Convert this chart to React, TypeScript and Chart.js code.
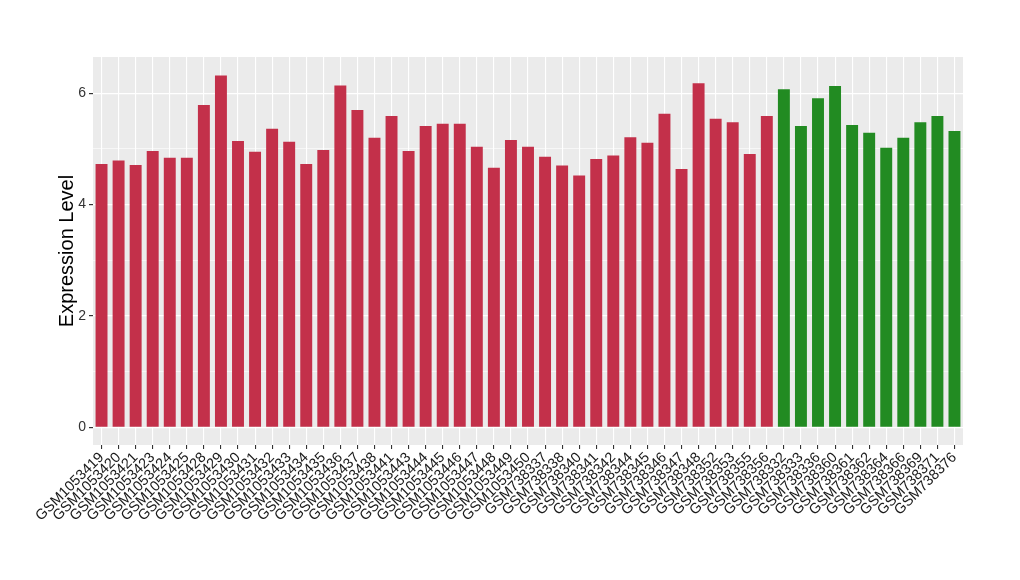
import React, { useEffect, useRef } from "react";
import { Chart, registerables } from "chart.js";

Chart.register(...registerables);

const samples = [
  "GSM1053419","GSM1053420","GSM1053421","GSM1053423","GSM1053424","GSM1053425","GSM1053428","GSM1053429","GSM1053430","GSM1053431",
  "GSM1053432","GSM1053433","GSM1053434","GSM1053435","GSM1053436","GSM1053437","GSM1053438","GSM1053441","GSM1053443","GSM1053444",
  "GSM1053445","GSM1053446","GSM1053447","GSM1053448","GSM1053449","GSM1053450","GSM738337","GSM738338","GSM738340","GSM738341",
  "GSM738342","GSM738344","GSM738345","GSM738346","GSM738347","GSM738348","GSM738352","GSM738353","GSM738355","GSM738356",
  "GSM738332","GSM738333","GSM738336","GSM738360","GSM738361","GSM738362","GSM738364","GSM738366","GSM738369","GSM738371","GSM738376",
];

const values = [
  4.73, 4.79, 4.71, 4.96, 4.84, 4.84, 5.79, 6.32, 5.14, 4.95,
  5.36, 5.13, 4.73, 4.98, 6.14, 5.70, 5.20, 5.59, 4.96, 5.41,
  5.45, 5.45, 5.04, 4.66, 5.16, 5.04, 4.86, 4.70, 4.52, 4.82,
  4.88, 5.21, 5.11, 5.63, 4.64, 6.18, 5.54, 5.48, 4.91, 5.59,
  6.07, 5.41, 5.91, 6.13, 5.43, 5.29, 5.02, 5.20, 5.48, 5.59, 5.32,
];

const groups = [
  "a","a","a","a","a","a","a","a","a","a",
  "a","a","a","a","a","a","a","a","a","a",
  "a","a","a","a","a","a","a","a","a","a",
  "a","a","a","a","a","a","a","a","a","a",
  "b","b","b","b","b","b","b","b","b","b","b",
];

const groupColors: Record<string, string> = { a: "#C3304A", b: "#228B22" };

const yTicks = [0, 1, 2, 3, 4, 5, 6];

const bgPlugin = {
  id: "panelBg",
  beforeDraw(chart: any) {
    const { ctx, chartArea } = chart;
    ctx.save();
    ctx.fillStyle = "#EBEBEB";
    ctx.fillRect(chartArea.left, chartArea.top, chartArea.right - chartArea.left, chartArea.bottom - chartArea.top);
    ctx.restore();
  },
};

export default function App() {
  const ref = useRef<HTMLCanvasElement>(null);
  useEffect(() => {
    document.body.style.margin = "0";
    const chart = new Chart(ref.current!, {
      type: "bar",
      data: {
        labels: samples,
        datasets: [
          {
            data: values,
            backgroundColor: groups.map((g) => groupColors[g]),
            barPercentage: 0.7,
            categoryPercentage: 1,
          },
        ],
      },
      plugins: [bgPlugin],
      options: {
        animation: false,
        responsive: false,
        maintainAspectRatio: false,
        layout: { padding: { left: 55, right: 57, top: 57, bottom: 0 } },
        plugins: { legend: { display: false }, tooltip: { enabled: false } },
        scales: {
          x: {
            offset: true,
            border: { display: false },
            grid: {
              offset: false,
              color: "#FFFFFF",
              lineWidth: 1.1,
              drawOnChartArea: true,
              tickColor: "#333333",
              tickLength: 4,
            },
            ticks: {
              autoSkip: false,
              maxRotation: 45,
              minRotation: 45,
              color: "#1A1A1A",
              padding: 0,
              font: { family: "Liberation Sans, Arial, sans-serif", size: 14.5 },
            },
            afterFit(axis: any) {
              axis.height = 580 - 445;
            },
          },
          y: {
            min: -0.317,
            max: 6.65,
            border: { display: false },
            afterBuildTicks(axis: any) {
              axis.ticks = yTicks.map((v) => ({ value: v }));
            },
            grid: {
              color: "#FFFFFF",
              lineWidth: (c: any) => (c.tick && c.tick.value % 2 === 0 ? 1.2 : 0.6),
              tickColor: (c: any) => (c.tick && c.tick.value % 2 === 0 ? "#333333" : "rgba(0,0,0,0)"),
              tickLength: 4,
            },
            ticks: {
              color: "#333333",
              padding: 3,
              font: { family: "Liberation Sans, Arial, sans-serif", size: 14 },
              callback: (v: any) => (Number(v) % 2 === 0 ? String(v) : ""),
            },
            title: {
              display: true,
              text: "Expression Level",
              color: "#000000",
              font: { family: "Liberation Sans, Arial, sans-serif", size: 20 },
              padding: { top: 0, bottom: 0 },
            },
            afterFit(axis: any) {
              axis.width = 93 - 55;
            },
          },
        },
      },
    } as any);
    return () => chart.destroy();
  }, []);
  return (
    <div style={{ width: 1020, height: 580 }}>
      <canvas ref={ref} width={1020} height={580} style={{ width: 1020, height: 580, display: "block" }} />
    </div>
  );
}
